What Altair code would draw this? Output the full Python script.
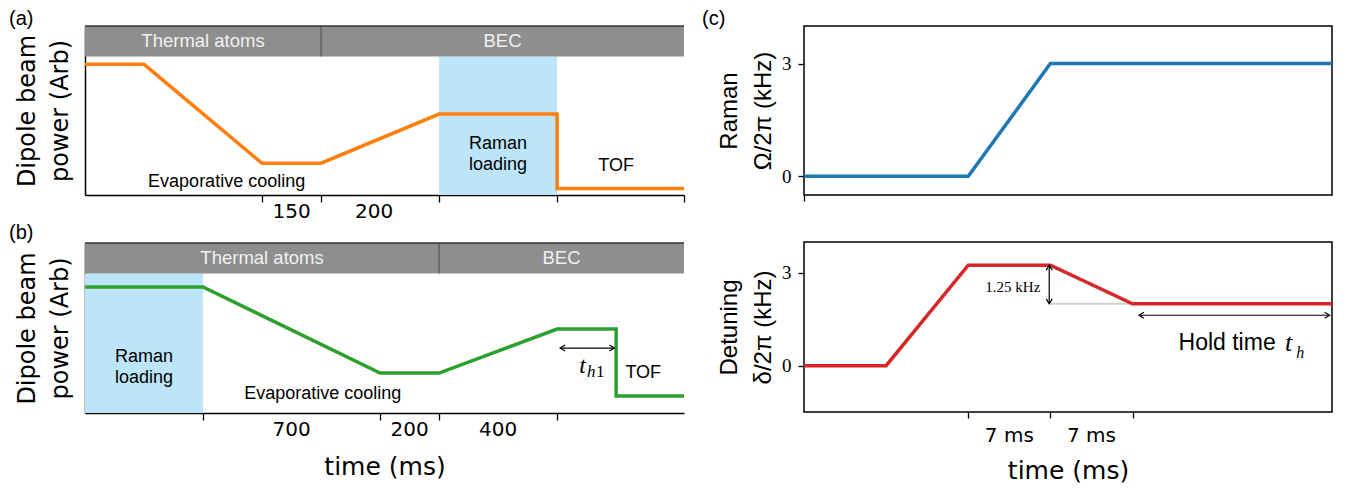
import altair as alt
import pandas as pd

# ---------------- data ----------------
# panel (a)  (time in schematic segment units)
a_time = [0, 1, 3, 4, 6, 8, 8, 10.15]
a_power = [0.773, 0.773, 0.188, 0.188, 0.479, 0.479, 0.038, 0.038]
a_ticks = [3, 4, 6, 8, 10.15]
a_tick_text = ["150", "200"]
a_tick_pos = [3.5, 4.9]
a_phase = ["Thermal atoms", "BEC"]
a_phase_start = [0, 4]
a_phase_end = [4, 10.15]
a_raman = [6, 8]

# panel (b)
b_time = [0, 2, 5, 6, 8, 9, 9, 10.15]
b_power = [0.741, 0.741, 0.235, 0.235, 0.494, 0.494, 0.1, 0.1]
b_ticks = [2, 5, 6, 8]
b_tick_text = ["700", "200", "400"]
b_tick_pos = [3.5, 5.5, 7.0]
b_phase = ["Thermal atoms", "BEC"]
b_phase_start = [0, 6]
b_phase_end = [6, 10.15]
b_raman = [0, 2]

# panel (c)
raman_time = [0, 14, 21, 45]
raman_omega = [0, 0, 3, 3]
det_time = [0, 7, 14, 21, 28, 45]
det_delta = [0, 0, 3.25, 3.25, 2.0, 2.0]
c_ticks = [14, 21, 28]
c_tick_text = ["7 ms", "7 ms"]
c_tick_pos = [17.5, 24.5]

# ---------------- layout constants ----------------
BAND = 0.82
XMAX = 10.15
WL, WR = 599, 528
HA, HB = 169, 170
SANS = "Liberation Sans"
PATH = {
    "R": "M-1,-0.6L0,0L-1,0.6",
    "L": "M1,-0.6L0,0L1,0.6",
    "U": "M-0.6,1L0,0L0.6,1",
    "D": "M-0.6,-1L0,0L0.6,-1",
}


class Frame:
    """Shared scales/axes for one panel so every layer merges identically."""

    def __init__(self, xd, yd, xaxis, yaxis):
        self.xd, self.yd, self.xaxis, self.yaxis = xd, yd, xaxis, yaxis

    def X(self, field):
        return alt.X(field, scale=alt.Scale(domain=self.xd, nice=False, zero=False),
                     axis=self.xaxis)

    def Y(self, field):
        return alt.Y(field, scale=alt.Scale(domain=self.yd, nice=False, zero=False),
                     axis=self.yaxis)


def head(f, x, y, key):
    return alt.Chart(pd.DataFrame({"x": [x], "y": [y]})).mark_point(
        shape=PATH[key], size=100, filled=False, color="black", strokeWidth=1.2, opacity=1
    ).encode(x=f.X("x:Q"), y=f.Y("y:Q"))


def arrow_h(f, x1, x2, y):
    shaft = alt.Chart(pd.DataFrame({"x": [x1], "x2": [x2], "y": [y]})).mark_rule(
        color="black", strokeWidth=1.2).encode(x=f.X("x:Q"), x2="x2:Q", y=f.Y("y:Q"))
    return [shaft, head(f, x1, y, "L"), head(f, x2, y, "R")]


def arrow_v(f, x, y1, y2):
    shaft = alt.Chart(pd.DataFrame({"x": [x], "y": [y1], "y2": [y2]})).mark_rule(
        color="black", strokeWidth=1.2).encode(x=f.X("x:Q"), y=f.Y("y:Q"), y2="y2:Q")
    return [shaft, head(f, x, max(y1, y2), "U"), head(f, x, min(y1, y2), "D")]


def text_at(f, df, **kw):
    base = dict(font=SANS, fontSize=18, color="black", baseline="middle")
    base.update(kw)
    return alt.Chart(df).mark_text(**base).encode(x=f.X("x:Q"), y=f.Y("y:Q"), text="t:N")


def panel_label(label, dx, dy=-17):
    return alt.Chart(pd.DataFrame({"t": [label]})).mark_text(
        font=SANS, fontSize=20, align="left", baseline="top", color="black"
    ).encode(x=alt.value(dx), y=alt.value(dy), text="t:N")


def left_panel(label, time, power, color, ticks, tick_text, tick_pos, phase, ps, pe,
               raman, notes, height, xtitle=None, extra=None, label_dy=-17):
    xkw = dict(values=ticks, labels=False, tickSize=7, tickColor="black", tickWidth=1.3,
               domainColor="black", domainWidth=1.5, grid=False)
    if xtitle:
        xkw.update(title=xtitle, titleFont="DejaVu Sans", titleFontSize=25,
                   titleFontWeight="normal", titleColor="black", titlePadding=34)
    else:
        xkw.update(title=None)
    xaxis = alt.Axis(**xkw)
    yaxis = alt.Axis(labels=False, ticks=False, grid=False, domainColor="black",
                     domainWidth=1.5, title=["Dipole beam", "power (Arb)"],
                     titleFont="DejaVu Sans", titleFontSize=24, titleFontWeight="normal",
                     titleColor="black", titlePadding=13, titleLineHeight=33)
    f = Frame([0, XMAX], [0, 1], xaxis, yaxis)

    shade = alt.Chart(pd.DataFrame({"x": [raman[0]], "x2": [raman[1]], "y": [0], "y2": [BAND]})
                      ).mark_rect(color="#bde5fa").encode(
        x=f.X("x:Q"), x2="x2:Q", y=f.Y("y:Q"), y2="y2:Q")

    bdf = pd.DataFrame({
        "x": ps, "x2": pe, "y": [BAND] * len(ps), "y2": [1] * len(ps), "t": phase,
        "mid": [(a + b) / 2 for a, b in zip(ps, pe)], "ym": [(BAND + 1) / 2] * len(ps)})
    band = alt.Chart(bdf).mark_rect(color="#8e8e8e").encode(
        x=f.X("x:Q"), x2="x2:Q", y=f.Y("y:Q"), y2="y2:Q")
    band_text = alt.Chart(bdf).mark_text(font=SANS, fontSize=18.5, color="#f0f0f0").encode(
        x=f.X("mid:Q"), y=f.Y("ym:Q"), text="t:N")
    div = alt.Chart(pd.DataFrame({"x": [pe[0]], "y": [BAND], "y2": [1]})).mark_rule(
        color="#555555", strokeWidth=1.2).encode(x=f.X("x:Q"), y=f.Y("y:Q"), y2="y2:Q")
    top = alt.Chart(pd.DataFrame({"x": [0], "x2": [XMAX], "y": [1]})).mark_rule(
        color="#333333", strokeWidth=1.5).encode(x=f.X("x:Q"), x2="x2:Q", y=f.Y("y:Q"))

    line = alt.Chart(pd.DataFrame({"x": time, "y": power, "i": list(range(len(time)))})
                     ).mark_line(color=color, strokeWidth=3.5).encode(
        x=f.X("x:Q"), y=f.Y("y:Q"), order="i:Q")

    notes_layer = text_at(f, pd.DataFrame(notes), lineBreak="\n", lineHeight=21)
    ticklab = alt.Chart(pd.DataFrame({"x": tick_pos, "t": tick_text})).mark_text(
        font="DejaVu Sans", fontSize=20, color="black", baseline="middle").encode(
        x=f.X("x:Q"), y=alt.value(height + 17), text="t:N")

    layers = [shade, band, div, top, band_text, line, notes_layer, ticklab,
              panel_label(label, -76, label_dy)]
    if extra:
        layers += extra(f)
    return alt.layer(*layers).properties(width=WL, height=height)


def right_panel(label, time, val, color, yd, ticks, ytitle, height, tick_text=None,
                tick_pos=None, xtitle=None, pre=None, extra=None):
    xkw = dict(values=ticks, labels=False, tickSize=6, tickColor="black", tickWidth=1.3,
               domain=False, grid=False)
    if xtitle:
        xkw.update(title=xtitle, titleFont="DejaVu Sans", titleFontSize=25,
                   titleFontWeight="normal", titleColor="black", titlePadding=40)
    else:
        xkw.update(title=None)
    xaxis = alt.Axis(**xkw)
    yaxis = alt.Axis(values=[0, 3], format="d", labelFont="Liberation Serif",
                     labelFontSize=19, labelColor="black", labelPadding=7, tickSize=6,
                     tickColor="black", tickWidth=1.3, domain=False, grid=False,
                     title=ytitle, titleFont=SANS, titleFontSize=24,
                     titleFontWeight="normal", titleColor="black", titlePadding=6,
                     titleLineHeight=34)
    f = Frame([0, 45], yd, xaxis, yaxis)
    layers = []
    if pre:
        layers += pre(f)
    layers.append(alt.Chart(pd.DataFrame({"x": time, "y": val, "i": list(range(len(time)))})
                            ).mark_line(color=color, strokeWidth=3.5).encode(
        x=f.X("x:Q"), y=f.Y("y:Q"), order="i:Q"))
    if tick_text:
        layers.append(alt.Chart(pd.DataFrame({"x": tick_pos, "t": tick_text})).mark_text(
            font="DejaVu Sans", fontSize=20, color="black", baseline="middle").encode(
            x=f.X("x:Q"), y=alt.value(height + 24), text="t:N"))
    if extra:
        layers += extra(f)
    if label:
        layers.append(panel_label(label, -102))
    return alt.layer(*layers).properties(
        width=WR, height=height, view=alt.ViewBackground(stroke="black", strokeWidth=1.5))


def b_extra(f):
    out = arrow_h(f, 8.05, 8.97, 0.382)
    out.append(text_at(f, pd.DataFrame({"x": [8.43], "y": [0.275], "t": ["t"]}),
                       font="Liberation Serif", fontStyle="italic", fontSize=24))
    out.append(text_at(f, pd.DataFrame({"x": [8.58], "y": [0.243], "t": ["h"]}),
                       font="Liberation Serif", fontStyle="italic", fontSize=17))
    out.append(text_at(f, pd.DataFrame({"x": [8.73], "y": [0.243], "t": ["1"]}),
                       font="Liberation Serif", fontSize=17))
    return out


def det_pre(f):
    return [alt.Chart(pd.DataFrame({"x": [21], "x2": [28], "y": [2.0]})).mark_rule(
        color="#cfcfcf", strokeWidth=2).encode(x=f.X("x:Q"), x2="x2:Q", y=f.Y("y:Q"))]


def det_extra(f):
    out = arrow_v(f, 20.9, 3.25, 2.0)
    out += arrow_h(f, 28.55, 44.8, 1.63)
    out.append(text_at(f, pd.DataFrame({"x": [17.8], "y": [2.56], "t": ["1.25 kHz"]}),
                       font="Liberation Serif", fontSize=15))
    out.append(text_at(f, pd.DataFrame({"x": [40.2], "y": [0.72], "t": ["Hold time"]}),
                       fontSize=23, align="right"))
    out.append(text_at(f, pd.DataFrame({"x": [41.3], "y": [0.74], "t": ["t"]}),
                       font="Liberation Serif", fontStyle="italic", fontSize=26))
    out.append(text_at(f, pd.DataFrame({"x": [42.3], "y": [0.42], "t": ["h"]}),
                       font="Liberation Serif", fontStyle="italic", fontSize=16))
    return out


# multi-line notes are anchored at their first line
a_notes = [
    {"x": 2.4, "y": 0.077, "t": "Evaporative cooling"},
    {"x": 7.0, "y": 0.302, "t": "Raman\nloading"},
    {"x": 9.0, "y": 0.172, "t": "TOF"},
]
b_notes = [
    {"x": 4.03, "y": 0.112, "t": "Evaporative cooling"},
    {"x": 1.0, "y": 0.329, "t": "Raman\nloading"},
    {"x": 9.46, "y": 0.235, "t": "TOF"},
]

pa = left_panel("(a)", a_time, a_power, "#ff7f0e", a_ticks, a_tick_text, a_tick_pos,
                a_phase, a_phase_start, a_phase_end, a_raman, a_notes, HA)
pb = left_panel("(b)", b_time, b_power, "#2ca02c", b_ticks, b_tick_text, b_tick_pos,
                b_phase, b_phase_start, b_phase_end, b_raman, b_notes, HB,
                xtitle="time (ms)", extra=b_extra, label_dy=-20)

pc1 = right_panel("(c)", raman_time, raman_omega, "#1f77b4", [-0.5, 4.0], [0],
                  ["Raman", "Ω/2π  (kHz)"], HA)
pc2 = right_panel("", det_time, det_delta, "#d62728", [-1.5, 4.0], c_ticks,
                  ["Detuning", "δ/2π  (kHz)"], HB, tick_text=c_tick_text,
                  tick_pos=c_tick_pos, xtitle="time (ms)", pre=det_pre, extra=det_extra)

left = alt.vconcat(pa, pb, spacing=48, bounds="flush")
right = alt.vconcat(pc1, pc2, spacing=47, bounds="flush")
# the nested column counts as zero width under flush bounds, so the gap covers the
# left column's plot width (599) plus the 120 px gutter
chart = alt.hconcat(left, right, spacing=WL + 120, bounds="flush").properties(
    padding={"left": 0, "top": 0, "right": 2, "bottom": 2}
).configure_view(stroke="transparent")

chart.save("out.html", embed_options={"renderer": "svg", "actions": False})
